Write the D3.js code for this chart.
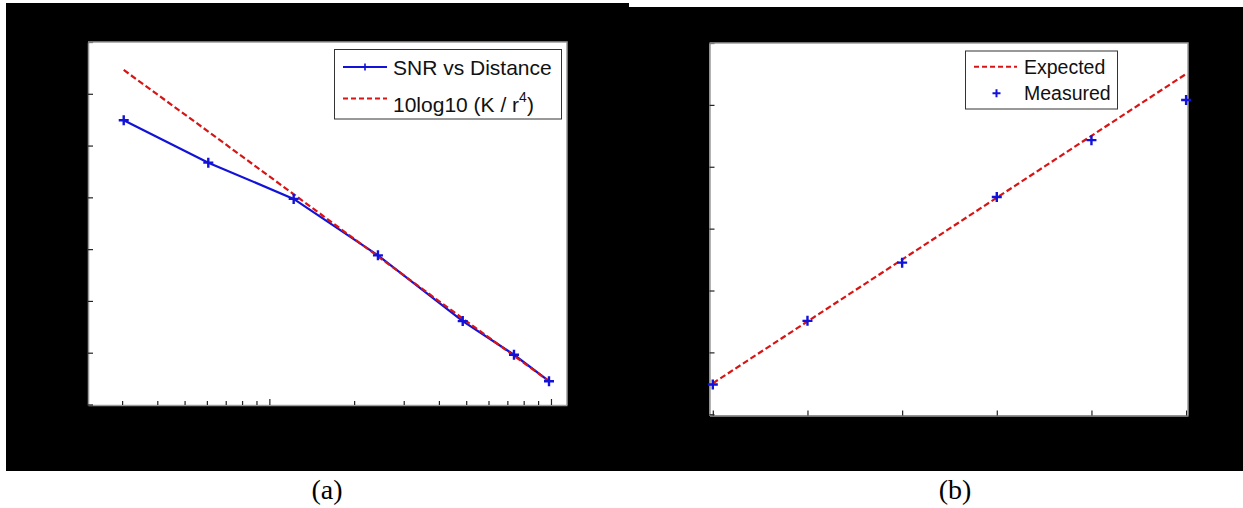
<!DOCTYPE html>
<html>
<head>
<meta charset="utf-8">
<script src="https://cdn.jsdelivr.net/npm/d3@7"></script>
<style>
  html, body { margin: 0; padding: 0; background: #ffffff; }
  svg { display: block; }
</style>
</head>
<body>
<svg id="chart" width="1243" height="508"></svg>
<script>
// ---------- Data: panel (a) ----------
const distA = [0.304, 0.607, 1.22, 2.43, 4.86, 7.39, 9.84];
const snrA = [54.9, 46.7, 39.7, 28.8, 16.1, 9.6, 4.5];
const modelA = [64.6, 52.7, 40.6, 28.6, 16.6, 9.4, 4.5];
const yTicksA = [0, 10, 20, 30, 40, 50, 60, 70];
const xMajorTicksA = [1, 10];
const xMinorTicksA = [0.3, 0.4, 0.5, 0.6, 0.7, 0.8, 0.9, 2, 3, 4, 5, 6, 7, 8, 9];
const legendA = ["SNR vs Distance", "10log10 (K / r", "4", ")"];

// ---------- Data: panel (b) ----------
const xB = [0, 1, 2, 3, 4, 5];
const expectedB = [0.5, 1.5, 2.5, 3.5, 4.5, 5.5];
const measuredB = [0.48, 1.51, 2.45, 3.51, 4.43, 5.08];
const yTicksB = [0, 1, 2, 3, 4, 5, 6];
const xTicksB = [0, 1, 2, 3, 4, 5];
const legendB = ["Expected", "Measured"];
const panelLabels = ["(a)", "(b)"];

const BLUE = "#1212d8";
const RED = "#d81414";
const svg = d3.select("#chart");

// black panels
svg.append("rect").attr("x", 6).attr("y", 3).attr("width", 623).attr("height", 468).attr("fill", "#000");
svg.append("rect").attr("x", 629).attr("y", 7).attr("width", 614).attr("height", 464).attr("fill", "#000");

function plus(g, x, y, s, w) {
  g.append("path")
    .attr("d", `M${x - s},${y}H${x + s}M${x},${y - s}V${y + s}`)
    .attr("stroke", BLUE).attr("stroke-width", w).attr("fill", "none");
}

function styleAxis(g) {
  g.select(".domain").attr("stroke", "#9a9a9a").attr("stroke-width", 1.5);
  g.selectAll(".tick line").attr("stroke", "#222").attr("stroke-width", 1.2);
  g.selectAll(".tick text").remove();
}

// ---------- Panel (a) ----------
{
  const L = 88, R = 567, T = 42, B = 405;
  svg.append("rect").attr("x", L).attr("y", T).attr("width", R - L).attr("height", B - T).attr("fill", "#fff");
  const x = d3.scaleLog().domain([0.227, 11.4]).range([L, R]);
  const y = d3.scaleLinear().domain([-0.1, 70]).range([B, T]);

  const gx1 = svg.append("g").attr("transform", `translate(0,${B})`)
    .call(d3.axisBottom(x).tickValues(xMinorTicksA).tickSizeInner(-4).tickSizeOuter(0).tickFormat(""));
  styleAxis(gx1);
  const gx2 = svg.append("g").attr("transform", `translate(0,${B})`)
    .call(d3.axisBottom(x).tickValues(xMajorTicksA).tickSizeInner(-6).tickSizeOuter(0).tickFormat(""));
  styleAxis(gx2);
  gx2.select(".domain").remove();
  const gy = svg.append("g").attr("transform", `translate(${L},0)`)
    .call(d3.axisLeft(y).tickValues(yTicksA).tickSizeInner(-5).tickSizeOuter(0).tickFormat(""));
  styleAxis(gy);
  // top & right edges
  svg.append("path").attr("d", `M${L},${T}H${R}V${B}`).attr("stroke", "#9a9a9a").attr("stroke-width", 1.5).attr("fill", "none");

  const line = d3.line().x((d, i) => x(distA[i])).y(d => y(d));
  svg.append("path").datum(snrA).attr("d", line).attr("fill", "none")
    .attr("stroke", BLUE).attr("stroke-width", 2.2);
  svg.append("path").datum(modelA).attr("d", line).attr("fill", "none")
    .attr("stroke", RED).attr("stroke-width", 2.2).attr("stroke-dasharray", "6,3");
  const gm = svg.append("g");
  snrA.forEach((v, i) => plus(gm, x(distA[i]), y(v), 5, 2.4));

  // legend
  const lg = svg.append("g");
  lg.append("rect").attr("x", 334.5).attr("y", 49.5).attr("width", 227).attr("height", 69.5)
    .attr("fill", "#fff").attr("stroke", "#333").attr("stroke-width", 1);
  lg.append("line").attr("x1", 343).attr("x2", 387).attr("y1", 67).attr("y2", 67)
    .attr("stroke", BLUE).attr("stroke-width", 2);
  plus(lg, 365, 67, 3.5, 1.6);
  lg.append("line").attr("x1", 343).attr("x2", 387).attr("y1", 98.5).attr("y2", 98.5)
    .attr("stroke", RED).attr("stroke-width", 2).attr("stroke-dasharray", "5,3");
  lg.append("text").attr("x", 393).attr("y", 75).attr("font-family", "Liberation Sans, Arial, sans-serif")
    .attr("font-size", 21).attr("fill", "#111").text(legendA[0]);
  const t2 = lg.append("text").attr("x", 393).attr("y", 111.5).attr("font-family", "Liberation Sans, Arial, sans-serif")
    .attr("font-size", 21).attr("fill", "#111");
  t2.append("tspan").text(legendA[1]);
  t2.append("tspan").attr("font-size", 14).attr("dy", -10).text(legendA[2]);
  t2.append("tspan").attr("font-size", 21).attr("dy", 10).text(legendA[3]);
}

// ---------- Panel (b) ----------
{
  const L = 709.5, R = 1188, T = 43, B = 415.5;
  svg.append("rect").attr("x", L).attr("y", T).attr("width", R - L).attr("height", B - T).attr("fill", "#fff");
  const x = d3.scaleLinear().domain([-0.035, 5.02]).range([L, R]);
  const y = d3.scaleLinear().domain([-0.02, 6]).range([B, T]);

  const gx = svg.append("g").attr("transform", `translate(0,${B})`)
    .call(d3.axisBottom(x).tickValues(xTicksB).tickSizeInner(-5).tickSizeOuter(0).tickFormat(""));
  styleAxis(gx);
  const gy = svg.append("g").attr("transform", `translate(${L},0)`)
    .call(d3.axisLeft(y).tickValues(yTicksB).tickSizeInner(-5).tickSizeOuter(0).tickFormat(""));
  styleAxis(gy);
  svg.append("path").attr("d", `M${L},${T}H${R}V${B}`).attr("stroke", "#9a9a9a").attr("stroke-width", 1.5).attr("fill", "none");

  const line = d3.line().x((d, i) => x(xB[i])).y(d => y(d));
  svg.append("path").datum(expectedB).attr("d", line).attr("fill", "none")
    .attr("stroke", RED).attr("stroke-width", 2.2).attr("stroke-dasharray", "6,3");
  const gm = svg.append("g");
  measuredB.forEach((v, i) => plus(gm, x(xB[i]), y(v), 5, 2.4));

  const lg = svg.append("g");
  lg.append("rect").attr("x", 965.5).attr("y", 51).attr("width", 152).attr("height", 58)
    .attr("fill", "#fff").attr("stroke", "#333").attr("stroke-width", 1);
  lg.append("line").attr("x1", 974).attr("x2", 1017).attr("y1", 66.7).attr("y2", 66.7)
    .attr("stroke", RED).attr("stroke-width", 2).attr("stroke-dasharray", "5,3");
  plus(lg, 996.5, 93.3, 4, 2);
  lg.append("text").attr("x", 1024).attr("y", 73.5).attr("font-family", "Liberation Sans, Arial, sans-serif")
    .attr("font-size", 19.5).attr("fill", "#111").text(legendB[0]);
  lg.append("text").attr("x", 1024).attr("y", 99.5).attr("font-family", "Liberation Sans, Arial, sans-serif")
    .attr("font-size", 19.5).attr("fill", "#111").text(legendB[1]);
}

// panel captions
svg.append("text").attr("x", 327).attr("y", 499).attr("text-anchor", "middle")
  .attr("font-family", "Liberation Serif, Times New Roman, serif").attr("font-size", 28).attr("fill", "#000").text(panelLabels[0]);
svg.append("text").attr("x", 955).attr("y", 499).attr("text-anchor", "middle")
  .attr("font-family", "Liberation Serif, Times New Roman, serif").attr("font-size", 28).attr("fill", "#000").text(panelLabels[1]);
</script>
</body>
</html>
